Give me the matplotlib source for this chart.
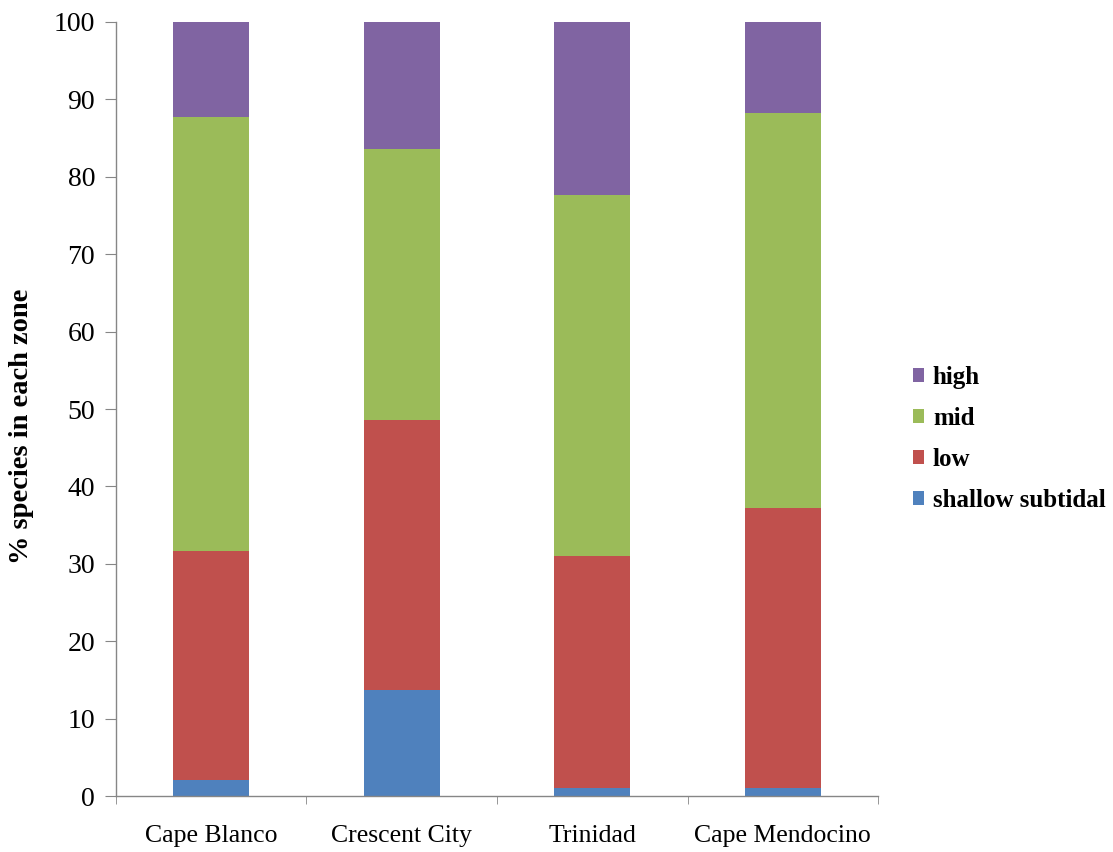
import numpy as np
import matplotlib
matplotlib.use('Agg')
import matplotlib.pyplot as plt

plt.rcParams['font.family'] = ['Liberation Serif', 'DejaVu Serif']

sites = ['Cape Blanco', 'Crescent City', 'Trinidad', 'Cape Mendocino']
zones = ['shallow subtidal', 'low', 'mid', 'high']
shallow = [2.1, 13.7, 1.1, 1.1]
low = [29.5, 34.9, 29.9, 36.1]
mid = [56.1, 35.0, 46.6, 51.1]
high = [12.3, 16.4, 22.4, 11.7]
colors = ['#4F81BD', '#C0504D', '#9BBB59', '#8064A2']

fig = plt.figure(figsize=(11.13, 8.52), dpi=100)
ax = fig.add_axes([0.1042, 0.0657, 0.6847, 0.9085])

x = np.arange(len(sites))
bottom = np.zeros(len(sites))
handles = []
for vals, name, c in zip([shallow, low, mid, high], zones, colors):
    b = ax.bar(x, vals, width=0.4, bottom=bottom, color=c, label=name)
    bottom += np.array(vals)
    handles.append(b)

ax.set_xlim(-0.5, len(sites) - 0.5)
ax.set_ylim(0, 100)
ax.set_yticks(np.arange(0, 101, 10))
ax.set_xticks(x)
ax.set_xticklabels(sites, fontsize=18.5)
ax.set_xticks(np.arange(-0.5, len(sites), 1), minor=True)
ax.tick_params(axis='x', which='major', length=0, pad=21)
ax.tick_params(axis='x', which='minor', length=6, color='#868686')
ax.tick_params(axis='y', length=8, color='#868686', labelsize=20, pad=7)

for s in ['top', 'right']:
    ax.spines[s].set_visible(False)
for s in ['left', 'bottom']:
    ax.spines[s].set_color('#868686')
    ax.spines[s].set_linewidth(1.0)

ax.set_ylabel('% species in each zone', fontsize=20.5, fontweight='bold')
ax.yaxis.set_label_coords(-0.107, 0.478)

fig.legend(handles[::-1], zones[::-1], loc='center left',
           bbox_to_anchor=(0.8, 0.485), frameon=False,
           prop={'size': 18, 'weight': 'bold'},
           handlelength=0.45, handleheight=0.45, handletextpad=0.35,
           labelspacing=0.72)

fig.savefig('out.png', dpi=100)
